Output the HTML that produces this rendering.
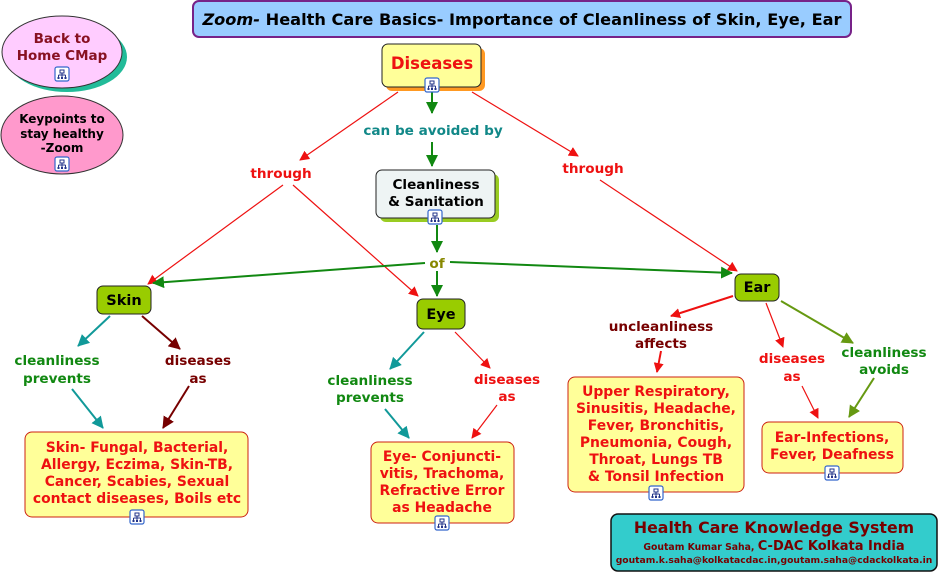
<!DOCTYPE html>
<html><head><meta charset="utf-8"><style>
html,body{margin:0;padding:0;background:#fff;}
svg{display:block;font-family:"DejaVu Sans","Liberation Sans",sans-serif;font-weight:bold;}
</style></head><body>
<svg width="944" height="577" viewBox="0 0 944 577" xmlns="http://www.w3.org/2000/svg">
<defs>
<marker id="ar" markerWidth="10" markerHeight="10" refX="9" refY="5" orient="auto" markerUnits="userSpaceOnUse"><path d="M0,0 L10,5 L0,10 z" fill="#ee1111"/></marker>
<marker id="ag" markerWidth="12" markerHeight="12" refX="11" refY="6" orient="auto" markerUnits="userSpaceOnUse"><path d="M0,0 L12,6 L0,12 z" fill="#118811"/></marker>
<marker id="at" markerWidth="12" markerHeight="12" refX="11" refY="6" orient="auto" markerUnits="userSpaceOnUse"><path d="M0,0 L12,6 L0,12 z" fill="#119999"/></marker>
<marker id="am" markerWidth="12" markerHeight="12" refX="11" refY="6" orient="auto" markerUnits="userSpaceOnUse"><path d="M0,0 L12,6 L0,12 z" fill="#770000"/></marker>
<marker id="ao" markerWidth="12" markerHeight="12" refX="11" refY="6" orient="auto" markerUnits="userSpaceOnUse"><path d="M0,0 L12,6 L0,12 z" fill="#669911"/></marker>
<g id="ic"><rect x="0" y="0" width="14" height="14" rx="2" fill="#fff" stroke="#3366cc" stroke-width="1.2"/><path d="M5,3h4v3h-4z M7,6v2 M3.5,8h7 M3.5,8v2 M7,8v2 M10.5,8v2" fill="none" stroke="#223388" stroke-width="1"/><rect x="2.5" y="10" width="2" height="2" fill="#223388"/><rect x="6" y="10" width="2" height="2" fill="#223388"/><rect x="9.5" y="10" width="2" height="2" fill="#223388"/></g>
</defs>

<rect x="193" y="1" width="658" height="36" rx="6" fill="#99ccff" stroke="#772288" stroke-width="2"/>
<text x="522" y="25" font-size="16.2" text-anchor="middle" fill="#000"><tspan font-style="italic">Zoom-</tspan>  Health Care Basics- Importance of Cleanliness of Skin, Eye, Ear</text>

<ellipse cx="67" cy="57" rx="60" ry="35" fill="#22bb99"/>
<ellipse cx="62" cy="52" rx="60" ry="36" fill="#ffccff" stroke="#333" stroke-width="1"/>
<text x="62" y="43" font-size="13.5" text-anchor="middle" fill="#881122">Back to</text>
<text x="62" y="60" font-size="13.5" text-anchor="middle" fill="#881122">Home CMap</text>
<use href="#ic" x="55" y="67"/>
<ellipse cx="62" cy="135" rx="61" ry="39" fill="#ff99cc" stroke="#333" stroke-width="1"/>
<text x="62" y="123" font-size="12" text-anchor="middle" fill="#000">Keypoints to</text>
<text x="62" y="138" font-size="12" text-anchor="middle" fill="#000">stay healthy</text>
<text x="62" y="152" font-size="12" text-anchor="middle" fill="#000">-Zoom</text>
<use href="#ic" x="55" y="157"/>

<g fill="none" stroke-width="1.2" stroke="#ee1111">
<line x1="398" y1="92" x2="300" y2="160" marker-end="url(#ar)"/>
<line x1="283" y1="185" x2="148" y2="284" marker-end="url(#ar)"/>
<line x1="293" y1="185" x2="418" y2="296" marker-end="url(#ar)"/>
<line x1="472" y1="92" x2="578" y2="156" marker-end="url(#ar)"/>
<line x1="600" y1="180" x2="737" y2="271" marker-end="url(#ar)"/>
<line x1="455" y1="332" x2="490" y2="368" marker-end="url(#ar)"/>
<line x1="497" y1="405" x2="472" y2="438" marker-end="url(#ar)"/>
<line x1="766" y1="303" x2="783" y2="347" marker-end="url(#ar)"/>
<line x1="802" y1="386" x2="818" y2="418" marker-end="url(#ar)"/>
</g>
<g fill="none" stroke-width="2" >
<line x1="432" y1="88" x2="432" y2="113" stroke="#118811" marker-end="url(#ag)"/>
<line x1="432" y1="142" x2="432" y2="166" stroke="#118811" marker-end="url(#ag)"/>
<line x1="437" y1="225" x2="437" y2="252" stroke="#118811" marker-end="url(#ag)"/>
<line x1="437" y1="271" x2="437" y2="296" stroke="#118811" marker-end="url(#ag)"/>
<line x1="425" y1="263" x2="153" y2="283" stroke="#118811" marker-end="url(#ag)"/>
<line x1="450" y1="262" x2="732" y2="273" stroke="#118811" marker-end="url(#ag)"/>
<line x1="110" y1="316" x2="78" y2="346" stroke="#119999" marker-end="url(#at)"/>
<line x1="72" y1="389" x2="103" y2="428" stroke="#119999" marker-end="url(#at)"/>
<line x1="142" y1="316" x2="180" y2="349" stroke="#770000" marker-end="url(#am)"/>
<line x1="189" y1="386" x2="163" y2="428" stroke="#770000" marker-end="url(#am)"/>
<line x1="424" y1="332" x2="390" y2="369" stroke="#119999" marker-end="url(#at)"/>
<line x1="385" y1="409" x2="409" y2="438" stroke="#119999" marker-end="url(#at)"/>
<line x1="733" y1="296" x2="671" y2="316" stroke="#ee1111" marker-end="url(#ar)"/>
<line x1="661" y1="351" x2="657" y2="372" stroke="#ee1111" marker-end="url(#ar)"/>
<line x1="781" y1="301" x2="853" y2="343" stroke="#669911" marker-end="url(#ao)"/>
<line x1="874" y1="378" x2="849" y2="417" stroke="#669911" marker-end="url(#ao)"/>
</g>

<g font-size="13.6" text-anchor="middle">
<text x="433" y="135" fill="#118888">can be avoided by</text>
<text x="281" y="178" fill="#ee1111">through</text>
<text x="593" y="173" fill="#ee1111">through</text>
<text x="437" y="268" fill="#888800">of</text>
<text x="57" y="365" fill="#118811">cleanliness</text><text x="57" y="383" fill="#118811">prevents</text>
<text x="198" y="365" fill="#770000">diseases</text><text x="198" y="383" fill="#770000">as</text>
<text x="370" y="385" fill="#118811">cleanliness</text><text x="370" y="402" fill="#118811">prevents</text>
<text x="507" y="384" fill="#ee1111">diseases</text><text x="507" y="401" fill="#ee1111">as</text>
<text x="661" y="331" fill="#770000">uncleanliness</text><text x="661" y="348" fill="#770000">affects</text>
<text x="792" y="363" fill="#ee1111">diseases</text><text x="792" y="381" fill="#ee1111">as</text>
<text x="884" y="357" fill="#118811">cleanliness</text><text x="884" y="374" fill="#118811">avoids</text>
</g>

<rect x="386" y="48" width="99" height="43" rx="6" fill="#ff9922"/>
<rect x="382" y="44" width="99" height="43" rx="6" fill="#ffff99" stroke="#222" stroke-width="1"/>
<text x="432" y="69" font-size="16.5" text-anchor="middle" fill="#ee1111">Diseases</text>
<use href="#ic" x="425" y="78"/>

<rect x="380" y="174" width="119" height="48" rx="6" fill="#99cc22"/>
<rect x="376" y="170" width="119" height="48" rx="6" fill="#eef4f4" stroke="#222" stroke-width="1"/>
<text x="436" y="189" font-size="13.6" text-anchor="middle" fill="#000">Cleanliness</text>
<text x="436" y="206" font-size="13.6" text-anchor="middle" fill="#000">&amp; Sanitation</text>
<use href="#ic" x="428" y="210"/>

<rect x="97" y="286" width="54" height="28" rx="6" fill="#99cc00" stroke="#222"/>
<text x="124" y="305" font-size="14.5" text-anchor="middle" fill="#000">Skin</text>
<rect x="417" y="299" width="48" height="30" rx="6" fill="#99cc00" stroke="#222"/>
<text x="441" y="319" font-size="14.5" text-anchor="middle" fill="#000">Eye</text>
<rect x="735" y="274" width="44" height="27" rx="6" fill="#99cc00" stroke="#222"/>
<text x="757" y="292" font-size="14.5" text-anchor="middle" fill="#000">Ear</text>

<g font-size="13.9" text-anchor="middle" fill="#ee1111">
<rect x="25" y="432" width="223" height="85" rx="7" fill="#ffff99" stroke="#cc2211"/>
<text x="137" y="452">Skin- Fungal, Bacterial,</text>
<text x="137" y="469">Allergy, Eczima, Skin-TB,</text>
<text x="137" y="486">Cancer, Scabies, Sexual</text>
<text x="137" y="503">contact diseases, Boils etc</text>
<use href="#ic" x="130" y="510"/>

<rect x="371" y="442" width="143" height="81" rx="7" fill="#ffff99" stroke="#cc2211"/>
<text x="442" y="461">Eye- Conjuncti-</text>
<text x="442" y="478">vitis, Trachoma,</text>
<text x="442" y="495">Refractive Error</text>
<text x="442" y="512">as Headache</text>
<use href="#ic" x="435" y="516"/>

<rect x="568" y="377" width="176" height="115" rx="7" fill="#ffff99" stroke="#cc2211"/>
<text x="656" y="396">Upper Respiratory,</text>
<text x="656" y="413">Sinusitis, Headache,</text>
<text x="656" y="430">Fever, Bronchitis,</text>
<text x="656" y="447">Pneumonia, Cough,</text>
<text x="656" y="464">Throat, Lungs TB</text>
<text x="656" y="481">&amp; Tonsil Infection</text>
<use href="#ic" x="649" y="486"/>

<rect x="762" y="422" width="141" height="51" rx="7" fill="#ffff99" stroke="#cc2211"/>
<text x="832" y="442">Ear-Infections,</text>
<text x="832" y="459">Fever, Deafness</text>
<use href="#ic" x="825" y="466"/>
</g>

<rect x="611" y="514" width="326" height="57" rx="7" fill="#33cccc" stroke="#111" stroke-width="1.5"/>
<text x="774" y="533" font-size="15.8" text-anchor="middle" fill="#770000">Health Care Knowledge System</text>
<text x="774" y="550" text-anchor="middle" fill="#770000"><tspan font-size="9.3">Goutam Kumar Saha, </tspan><tspan font-size="13">C-DAC Kolkata India</tspan></text>
<text x="774" y="563" font-size="9.2" text-anchor="middle" fill="#770000">goutam.k.saha@kolkatacdac.in,goutam.saha@cdackolkata.in</text>
</svg>
</body></html>
